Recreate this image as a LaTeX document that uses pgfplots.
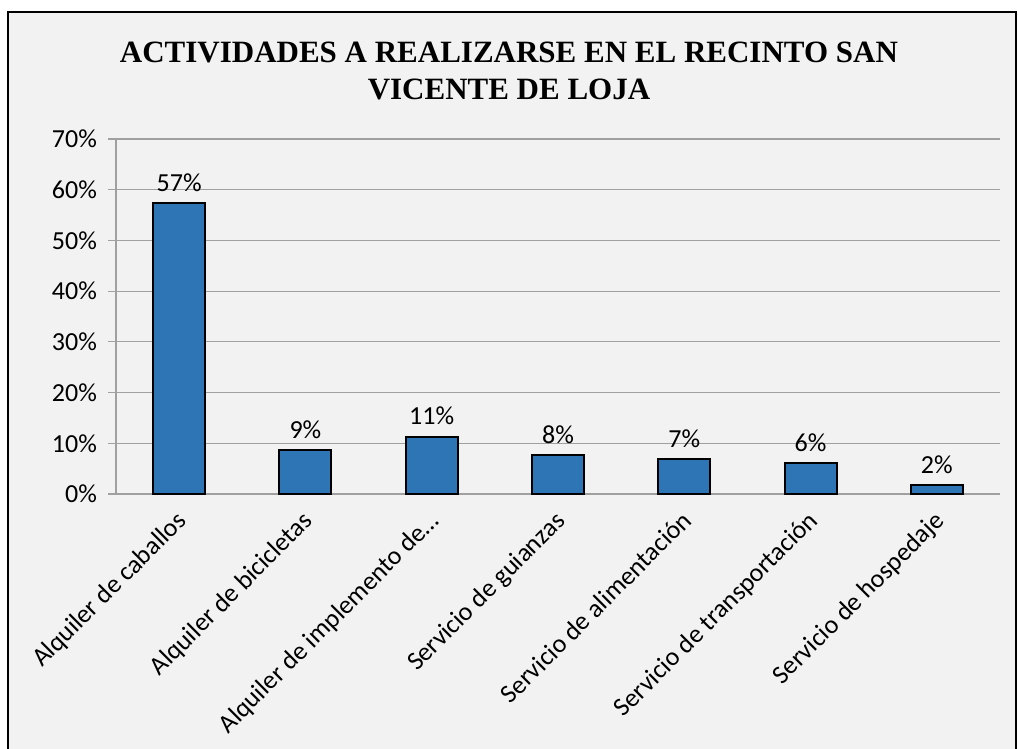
\documentclass[border=0pt]{standalone}
\usepackage{pgfplots}
\pgfplotsset{compat=1.18}
\usepackage{fontspec}
\setmainfont{Carlito}
\newfontfamily\titlefont{Liberation Serif}
\definecolor{bg}{RGB}{242,242,242}
\definecolor{barblue}{RGB}{46,117,182}
\definecolor{gridgray}{RGB}{160,160,160}

\begin{document}
\begin{tikzpicture}
  \useasboundingbox (0,0) rectangle (509pt,374.5pt);
  \fill[white] (0,0) rectangle (509pt,374.5pt);
  \draw[fill=bg,draw=black,line width=0.7pt] (4pt,-2pt) rectangle (508pt,368.5pt);
  \node[align=center,font=\titlefont\bfseries\fontsize{15.5}{18.5}\selectfont]
    at (254.5pt,339pt) {ACTIVIDADES A REALIZARSE EN EL RECINTO SAN\\VICENTE DE LOJA};
  \begin{axis}[
    at={(58pt,127.5pt)}, anchor=south west,
    scale only axis,
    width=442pt, height=177.5pt,
    xmin=-0.5, xmax=6.5,
    ymin=0, ymax=70,
    ytick={0,10,...,70},
    yticklabel={\pgfmathprintnumber{\tick}\%},
    /pgf/number format/assume math mode=true,
    ymajorgrids=true,
    grid style={draw=gridgray,line width=0.6pt},
    axis x line*=bottom,
    axis y line*=left,
    axis line style={draw=gridgray,line width=0.6pt},
    tick style={draw=gridgray,line width=0.6pt},
    y tick label style={font=\fontsize{13}{15}\selectfont,xshift=-2pt},
    ytick align=outside,
    major tick length=4pt,
    xtick={0,...,6},
    xticklabels={Alquiler de caballos,Alquiler de bicicletas,Alquiler de implemento de…,Servicio de guianzas,Servicio de alimentación,Servicio de transportación,Servicio de hospedaje},
    x tick label style={rotate=45,anchor=north east,font=\fontsize{13}{15}\selectfont,inner sep=1pt,yshift=0pt,xshift=-3pt},
    x tick style={draw=none},
    extra x ticks={-0.5,0.5,1.5,2.5,3.5,4.5,5.5,6.5},
    extra x tick labels={},
    extra x tick style={grid=none,tick style={draw=gridgray,line width=0.6pt},xtick align=outside},
    ybar,
    bar width=26pt,
    nodes near coords,
    point meta=explicit symbolic,
    every node near coord/.append style={font=\fontsize{13}{15}\selectfont,yshift=2pt},
    clip=false
  ]
    \addplot[fill=barblue,draw=black,line width=1pt] coordinates {
      (0,57.4) [57\%]
      (1,8.6) [9\%]
      (2,11.3) [11\%]
      (3,7.7) [8\%]
      (4,6.9) [7\%]
      (5,6.1) [6\%]
      (6,1.7) [2\%]
    };
  \end{axis}
\end{tikzpicture}
\end{document}
